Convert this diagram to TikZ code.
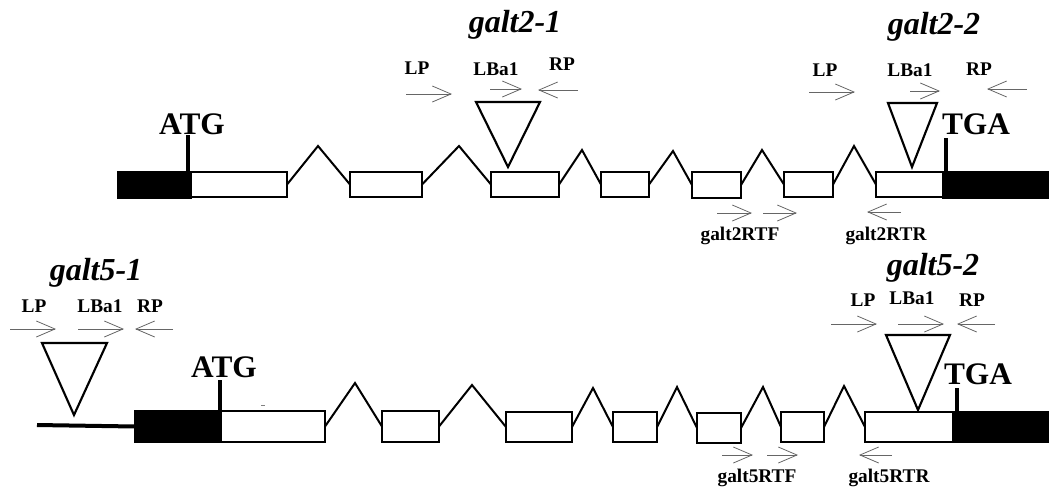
\documentclass[tikz,border=0pt]{standalone}
\usepackage{fontspec}
\setmainfont{Liberation Serif}
\usetikzlibrary{arrows.meta}
\tikzset{
  exon/.style={draw=black, line width=1.8pt, fill=white, inner sep=0pt, outer sep=0pt},
  utr/.style={draw=black, line width=1.8pt, fill=black, inner sep=0pt, outer sep=0pt},
  intron/.style={draw=black, line width=1.5pt},
  tick/.style={draw=black, line width=2.4pt},
  ins/.style={draw=black, line width=1.6pt, fill=white},
  primer/.style={draw=black!60, line width=0.6pt, -{Straight Barb[length=14pt,width=12pt]}},
  codon/.style={font=\bfseries\fontsize{23.5}{26}\selectfont, inner sep=0pt},
  allele/.style={font=\bfseries\itshape\fontsize{24}{28}\selectfont, inner sep=0pt},
  plab/.style={font=\bfseries\fontsize{14.5}{16}\selectfont, inner sep=0pt},
  rtlab/.style={font=\bfseries\fontsize{14.5}{16}\selectfont, inner sep=0pt}
}
\newcommand\ex[6]{\node[#6, minimum width={(#3-#2)*0.75pt}, minimum height={(#5-#4)*0.75pt}] (#1) at ({(#2+#3)/2},{(#4+#5)/2}) {};}
\newcommand\prm[4]{\coordinate (#1s) at (#2,#4); \coordinate (#1e) at (#3,#4); \draw[primer] (#1s) -- (#1e);}
\begin{document}
\begin{tikzpicture}[x=0.75pt,y=-0.75pt]
\useasboundingbox (0,0) rectangle (1049,490);
% ---------------- Row 1 : galt2 ----------------
\ex{a0}{118}{191}{172}{198}{utr}
\ex{a1}{191}{287}{172}{197}{exon}
\ex{a2}{350}{422}{172}{197}{exon}
\ex{a3}{491}{559}{172}{197}{exon}
\ex{a4}{601}{649}{172}{197}{exon}
\ex{a5}{692}{741}{172}{198}{exon}
\ex{a6}{784}{833}{172}{197}{exon}
\ex{a7}{876}{943}{172}{197}{exon}
\ex{a8}{943}{1052}{172}{198}{utr}
\coordinate (p1) at (318,146);
\coordinate (p2) at (459,146);
\coordinate (p3) at (582,150);
\coordinate (p4) at (673,151);
\coordinate (p5) at (762,150);
\coordinate (p6) at (854,146);
\draw[intron] (a1.east) -- (p1) -- (a2.west);
\draw[intron] (a2.east) -- (p2) -- (a3.west);
\draw[intron] (a3.east) -- (p3) -- (a4.west);
\draw[intron] (a4.east) -- (p4) -- (a5.west);
\draw[intron] (a5.east) -- (p5) -- (a6.west);
\draw[intron] (a6.east) -- (p6) -- (a7.west);
% start / stop
\coordinate (atg1t) at (188,135);
\draw[tick] (atg1t) -- (atg1t |- a1.north);
\node[codon] (atg1) at (192,124) {ATG};
\coordinate (tga1t) at (946,138);
\draw[tick] (tga1t) -- (tga1t |- a8.north);
\node[codon] (tga1) at (976,124) {TGA};
% insertions
\draw[ins] (476,102) -- (540,102) -- (508,167) -- cycle;
\draw[ins] (888,103) -- (937,103) -- (912,167) -- cycle;
\node[allele] (g21) at (515,25) {galt2-1};
\node[allele] (g22) at (934,27) {galt2-2};
% primers galt2-1
\node[plab] (g21lp) at (417,68) {LP};
\node[plab] (g21lb) at (496,69) {LBa1};
\node[plab] (g21rp) at (562,64) {RP};
\prm{g21a}{406}{452}{94}
\prm{g21b}{490}{522}{89}
\prm{g21c}{578}{538}{90}
% primers galt2-2
\node[plab] (g22lp) at (825,70) {LP};
\node[plab] (g22lb) at (910,70) {LBa1};
\node[plab] (g22rp) at (979,69) {RP};
\prm{g22a}{809}{855}{92}
\prm{g22b}{910}{940}{91}
\prm{g22c}{1027}{987}{89}
% RT primers galt2
\prm{r2a}{717}{752}{213}
\prm{r2b}{763}{797}{213}
\prm{r2c}{901}{867}{212}
\node[rtlab] (r2f) at (740,236) {galt2RTF};
\node[rtlab] (r2r) at (886,236) {galt2RTR};
% ---------------- Row 2 : galt5 ----------------
\coordinate (up) at (37,425);
\ex{b0}{135}{221}{411}{442}{utr}
\draw[black, line width=3pt] (up) -- (b0.west);
\ex{b1}{221}{325}{411}{442}{exon}
\ex{b2}{382}{439}{411}{442}{exon}
\ex{b3}{506}{572}{412}{442}{exon}
\ex{b4}{613}{657}{412}{442}{exon}
\ex{b5}{697}{741}{413}{443}{exon}
\ex{b6}{781}{824}{412}{442}{exon}
\ex{b7}{865}{953}{412}{442}{exon}
\ex{b8}{953}{1052}{412}{442}{utr}
\coordinate (q1) at (355,383);
\coordinate (q2) at (472,385);
\coordinate (q3) at (593,388);
\coordinate (q4) at (677,387);
\coordinate (q5) at (763,387);
\coordinate (q6) at (844,386);
\draw[intron] (b1.east) -- (q1) -- (b2.west);
\draw[intron] (b2.east) -- (q2) -- (b3.west);
\draw[intron] (b3.east) -- (q3) -- (b4.west);
\draw[intron] (b4.east) -- (q4) -- (b5.west);
\draw[intron] (b5.east) -- (q5) -- (b6.west);
\draw[intron] (b6.east) -- (q6) -- (b7.west);
\coordinate (atg2t) at (220,380);
\draw[tick] (atg2t) -- (atg2t |- b1.north);
\node[codon] (atg2) at (224,367) {ATG};
\coordinate (tga2t) at (957,388);
\draw[tick] (tga2t) -- (tga2t |- b8.north);
\node[codon] (tga2) at (978,374) {TGA};
\draw[black!50, line width=0.5pt] (261,405) -- (265,405);
% insertions
\draw[ins] (42,343) -- (107,343) -- (74,415) -- cycle;
\draw[ins] (886,335) -- (950,335) -- (918,410) -- cycle;
\node[allele] (g51) at (96,273) {galt5-1};
\node[allele] (g52) at (933,268) {galt5-2};
% primers galt5-1
\node[plab] (g51lp) at (34,306) {LP};
\node[plab] (g51lb) at (100,306) {LBa1};
\node[plab] (g51rp) at (150,306) {RP};
\prm{g51a}{10}{56}{329}
\prm{g51b}{78}{124}{329}
\prm{g51c}{173}{135}{329}
% primers galt5-2
\node[plab] (g52lp) at (863,300) {LP};
\node[plab] (g52lb) at (912,298) {LBa1};
\node[plab] (g52rp) at (972,300) {RP};
\prm{g52a}{831}{877}{324}
\prm{g52b}{898}{944}{324}
\prm{g52c}{995}{957}{324}
% RT primers galt5
\prm{r5a}{722}{753}{455}
\prm{r5b}{767}{798}{455}
\prm{r5c}{892}{859}{455}
\node[rtlab] (r5f) at (757,478) {galt5RTF};
\node[rtlab] (r5r) at (889,478) {galt5RTR};
\end{tikzpicture}
\end{document}
